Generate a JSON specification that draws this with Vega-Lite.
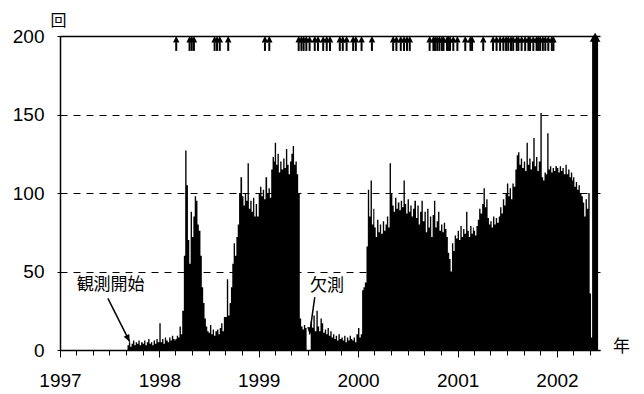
{
"$schema": "https://vega.github.io/schema/vega-lite/v6.json",
"width": 540, "height": 314,
"autosize": {"type": "none"},
"padding": {"left": 60, "top": 36, "right": 44, "bottom": 44},
"background": "white",
"config": {"view": {"stroke": null}, "font": "Liberation Sans"},
"datasets": {
"main": [
{"d":"1997-09-06","v":3},{"d":"1997-09-11","v":5},{"d":"1997-09-16","v":2},{"d":"1997-09-21","v":4},{"d":"1997-09-26","v":6},
{"d":"1997-10-01","v":3},{"d":"1997-10-06","v":5},{"d":"1997-10-11","v":4},{"d":"1997-10-16","v":6},{"d":"1997-10-21","v":3},{"d":"1997-10-26","v":5},
{"d":"1997-11-01","v":4},{"d":"1997-11-06","v":6},{"d":"1997-11-11","v":3},{"d":"1997-11-16","v":5},{"d":"1997-11-21","v":7},{"d":"1997-11-26","v":4},
{"d":"1997-12-01","v":5},{"d":"1997-12-06","v":3},{"d":"1997-12-11","v":6},{"d":"1997-12-16","v":4},{"d":"1997-12-21","v":7},{"d":"1997-12-26","v":5},
{"d":"1998-01-01","v":17},{"d":"1998-01-06","v":5},{"d":"1998-01-11","v":7},{"d":"1998-01-16","v":4},{"d":"1998-01-21","v":8},{"d":"1998-01-26","v":6},
{"d":"1998-02-01","v":5},{"d":"1998-02-06","v":8},{"d":"1998-02-11","v":6},{"d":"1998-02-16","v":9},{"d":"1998-02-21","v":7},{"d":"1998-02-26","v":6},
{"d":"1998-03-01","v":7},{"d":"1998-03-06","v":9},{"d":"1998-03-11","v":8},{"d":"1998-03-16","v":15},{"d":"1998-03-21","v":10},{"d":"1998-03-26","v":25},
{"d":"1998-04-01","v":60},{"d":"1998-04-06","v":127},{"d":"1998-04-11","v":105},{"d":"1998-04-16","v":70},{"d":"1998-04-21","v":55},{"d":"1998-04-26","v":88},
{"d":"1998-05-01","v":72},{"d":"1998-05-06","v":85},{"d":"1998-05-11","v":98},{"d":"1998-05-16","v":95},{"d":"1998-05-21","v":80},{"d":"1998-05-26","v":76},
{"d":"1998-06-01","v":60},{"d":"1998-06-06","v":40},{"d":"1998-06-11","v":30},{"d":"1998-06-16","v":20},{"d":"1998-06-21","v":15},{"d":"1998-06-26","v":12},
{"d":"1998-07-01","v":11},{"d":"1998-07-06","v":16},{"d":"1998-07-11","v":10},{"d":"1998-07-16","v":13},{"d":"1998-07-21","v":9},{"d":"1998-07-26","v":12},
{"d":"1998-08-01","v":13},{"d":"1998-08-06","v":10},{"d":"1998-08-11","v":14},{"d":"1998-08-16","v":17},{"d":"1998-08-21","v":12},{"d":"1998-08-26","v":21},
{"d":"1998-09-01","v":21},{"d":"1998-09-06","v":45},{"d":"1998-09-11","v":22},{"d":"1998-09-16","v":30},{"d":"1998-09-21","v":40},{"d":"1998-09-26","v":55},
{"d":"1998-10-01","v":68},{"d":"1998-10-06","v":60},{"d":"1998-10-11","v":72},{"d":"1998-10-16","v":80},{"d":"1998-10-21","v":100},{"d":"1998-10-26","v":110},
{"d":"1998-11-01","v":98},{"d":"1998-11-06","v":92},{"d":"1998-11-11","v":100},{"d":"1998-11-16","v":95},{"d":"1998-11-21","v":119},{"d":"1998-11-26","v":90},
{"d":"1998-12-01","v":95},{"d":"1998-12-06","v":88},{"d":"1998-12-11","v":97},{"d":"1998-12-16","v":85},{"d":"1998-12-21","v":93},{"d":"1998-12-26","v":85},
{"d":"1999-01-01","v":100},{"d":"1999-01-06","v":104},{"d":"1999-01-11","v":98},{"d":"1999-01-16","v":102},{"d":"1999-01-21","v":96},{"d":"1999-01-26","v":110},
{"d":"1999-02-01","v":100},{"d":"1999-02-06","v":103},{"d":"1999-02-11","v":97},{"d":"1999-02-16","v":115},{"d":"1999-02-21","v":123},{"d":"1999-02-26","v":120},
{"d":"1999-03-01","v":132},{"d":"1999-03-06","v":118},{"d":"1999-03-11","v":125},{"d":"1999-03-16","v":113},{"d":"1999-03-21","v":120},{"d":"1999-03-26","v":115},
{"d":"1999-04-01","v":122},{"d":"1999-04-06","v":116},{"d":"1999-04-11","v":128},{"d":"1999-04-16","v":118},{"d":"1999-04-21","v":112},{"d":"1999-04-26","v":120},
{"d":"1999-05-01","v":125},{"d":"1999-05-06","v":130},{"d":"1999-05-11","v":118},{"d":"1999-05-16","v":120},{"d":"1999-05-21","v":112},{"d":"1999-05-26","v":100},
{"d":"1999-06-01","v":20},{"d":"1999-06-06","v":15},{"d":"1999-06-11","v":13},{"d":"1999-06-16","v":16},{"d":"1999-06-21","v":14},{"d":"1999-06-26","v":0},
{"d":"1999-07-01","v":0},{"d":"1999-07-06","v":0},{"d":"1999-07-11","v":18},{"d":"1999-07-16","v":14},{"d":"1999-07-21","v":22},{"d":"1999-07-26","v":12},
{"d":"1999-08-01","v":25},{"d":"1999-08-06","v":15},{"d":"1999-08-11","v":12},{"d":"1999-08-16","v":20},{"d":"1999-08-21","v":17},{"d":"1999-08-26","v":11},
{"d":"1999-09-01","v":13},{"d":"1999-09-06","v":10},{"d":"1999-09-11","v":14},{"d":"1999-09-16","v":9},{"d":"1999-09-21","v":12},{"d":"1999-09-26","v":8},
{"d":"1999-10-01","v":10},{"d":"1999-10-06","v":7},{"d":"1999-10-11","v":9},{"d":"1999-10-16","v":6},{"d":"1999-10-21","v":10},{"d":"1999-10-26","v":7},
{"d":"1999-11-01","v":8},{"d":"1999-11-06","v":6},{"d":"1999-11-11","v":9},{"d":"1999-11-16","v":5},{"d":"1999-11-21","v":8},{"d":"1999-11-26","v":6},
{"d":"1999-12-01","v":9},{"d":"1999-12-06","v":7},{"d":"1999-12-11","v":6},{"d":"1999-12-16","v":8},{"d":"1999-12-21","v":5},{"d":"1999-12-26","v":10},
{"d":"2000-01-01","v":14},{"d":"2000-01-06","v":8},{"d":"2000-01-11","v":10},{"d":"2000-01-16","v":38},{"d":"2000-01-21","v":40},{"d":"2000-01-26","v":43},
{"d":"2000-02-01","v":66},{"d":"2000-02-06","v":102},{"d":"2000-02-11","v":85},{"d":"2000-02-16","v":108},{"d":"2000-02-21","v":80},{"d":"2000-02-26","v":90},
{"d":"2000-03-01","v":78},{"d":"2000-03-06","v":72},{"d":"2000-03-11","v":83},{"d":"2000-03-16","v":75},{"d":"2000-03-21","v":80},{"d":"2000-03-26","v":74},
{"d":"2000-04-01","v":82},{"d":"2000-04-06","v":76},{"d":"2000-04-11","v":80},{"d":"2000-04-16","v":85},{"d":"2000-04-21","v":78},{"d":"2000-04-26","v":119},
{"d":"2000-05-01","v":100},{"d":"2000-05-06","v":92},{"d":"2000-05-11","v":88},{"d":"2000-05-16","v":97},{"d":"2000-05-21","v":90},{"d":"2000-05-26","v":94},
{"d":"2000-06-01","v":89},{"d":"2000-06-06","v":95},{"d":"2000-06-11","v":91},{"d":"2000-06-16","v":108},{"d":"2000-06-21","v":93},{"d":"2000-06-26","v":87},
{"d":"2000-07-01","v":96},{"d":"2000-07-06","v":88},{"d":"2000-07-11","v":92},{"d":"2000-07-16","v":85},{"d":"2000-07-21","v":90},{"d":"2000-07-26","v":95},
{"d":"2000-08-01","v":84},{"d":"2000-08-06","v":92},{"d":"2000-08-11","v":80},{"d":"2000-08-16","v":88},{"d":"2000-08-21","v":95},{"d":"2000-08-26","v":82},
{"d":"2000-09-01","v":88},{"d":"2000-09-06","v":75},{"d":"2000-09-11","v":90},{"d":"2000-09-16","v":78},{"d":"2000-09-21","v":85},{"d":"2000-09-26","v":72},
{"d":"2000-10-01","v":86},{"d":"2000-10-06","v":95},{"d":"2000-10-11","v":78},{"d":"2000-10-16","v":82},{"d":"2000-10-21","v":88},{"d":"2000-10-26","v":76},
{"d":"2000-11-01","v":80},{"d":"2000-11-06","v":75},{"d":"2000-11-11","v":81},{"d":"2000-11-16","v":77},{"d":"2000-11-21","v":72},{"d":"2000-11-26","v":62},
{"d":"2000-12-01","v":58},{"d":"2000-12-06","v":50},{"d":"2000-12-11","v":68},{"d":"2000-12-16","v":63},{"d":"2000-12-21","v":73},{"d":"2000-12-26","v":71},
{"d":"2001-01-01","v":76},{"d":"2001-01-06","v":70},{"d":"2001-01-11","v":79},{"d":"2001-01-16","v":72},{"d":"2001-01-21","v":77},{"d":"2001-01-26","v":74},
{"d":"2001-02-01","v":88},{"d":"2001-02-06","v":76},{"d":"2001-02-11","v":72},{"d":"2001-02-16","v":79},{"d":"2001-02-21","v":74},{"d":"2001-02-26","v":78},
{"d":"2001-03-01","v":76},{"d":"2001-03-06","v":73},{"d":"2001-03-11","v":79},{"d":"2001-03-16","v":83},{"d":"2001-03-21","v":90},{"d":"2001-03-26","v":87},
{"d":"2001-04-01","v":93},{"d":"2001-04-06","v":103},{"d":"2001-04-11","v":91},{"d":"2001-04-16","v":96},{"d":"2001-04-21","v":84},{"d":"2001-04-26","v":80},
{"d":"2001-05-01","v":82},{"d":"2001-05-06","v":78},{"d":"2001-05-11","v":85},{"d":"2001-05-16","v":80},{"d":"2001-05-21","v":84},{"d":"2001-05-26","v":81},
{"d":"2001-06-01","v":85},{"d":"2001-06-06","v":91},{"d":"2001-06-11","v":87},{"d":"2001-06-16","v":96},{"d":"2001-06-21","v":92},{"d":"2001-06-26","v":100},
{"d":"2001-07-01","v":106},{"d":"2001-07-06","v":98},{"d":"2001-07-11","v":103},{"d":"2001-07-16","v":96},{"d":"2001-07-21","v":106},{"d":"2001-07-26","v":104},
{"d":"2001-08-01","v":115},{"d":"2001-08-06","v":124},{"d":"2001-08-11","v":126},{"d":"2001-08-16","v":118},{"d":"2001-08-21","v":122},{"d":"2001-08-26","v":116},
{"d":"2001-09-01","v":120},{"d":"2001-09-06","v":114},{"d":"2001-09-11","v":132},{"d":"2001-09-16","v":118},{"d":"2001-09-21","v":122},{"d":"2001-09-26","v":115},
{"d":"2001-10-01","v":120},{"d":"2001-10-06","v":135},{"d":"2001-10-11","v":117},{"d":"2001-10-16","v":123},{"d":"2001-10-21","v":114},{"d":"2001-10-26","v":120},
{"d":"2001-11-01","v":151},{"d":"2001-11-06","v":110},{"d":"2001-11-11","v":108},{"d":"2001-11-16","v":113},{"d":"2001-11-21","v":112},{"d":"2001-11-26","v":138},
{"d":"2001-12-01","v":115},{"d":"2001-12-06","v":117},{"d":"2001-12-11","v":113},{"d":"2001-12-16","v":116},{"d":"2001-12-21","v":114},{"d":"2001-12-26","v":117},
{"d":"2002-01-01","v":116},{"d":"2002-01-06","v":113},{"d":"2002-01-11","v":117},{"d":"2002-01-16","v":114},{"d":"2002-01-21","v":116},{"d":"2002-01-26","v":112},
{"d":"2002-02-01","v":118},{"d":"2002-02-06","v":112},{"d":"2002-02-11","v":115},{"d":"2002-02-16","v":110},{"d":"2002-02-21","v":113},{"d":"2002-02-26","v":108},
{"d":"2002-03-01","v":110},{"d":"2002-03-06","v":104},{"d":"2002-03-11","v":107},{"d":"2002-03-16","v":102},{"d":"2002-03-21","v":105},{"d":"2002-03-26","v":100},
{"d":"2002-04-01","v":98},{"d":"2002-04-06","v":94},{"d":"2002-04-11","v":85},{"d":"2002-04-16","v":96},{"d":"2002-04-21","v":90},{"d":"2002-04-26","v":100},
{"d":"2002-05-01","v":36},{"d":"2002-05-06","v":8},{"d":"2002-05-10","v":200},{"d":"2002-06-01","v":0}
],
"labels": [
{"d":"1997-07-06","v":41.4,"t":"観測開始"},
{"d":"1999-09-09","v":40.7,"t":"欠測"}
],
"pointers": [
{"k":"start","d":"1997-06-26","v":32.9,"d2":"1997-09-14","v2":5.3},
{"k":"gap","d":"1999-07-26","v":33.7,"d2":"1999-07-07","v2":10}
],
"events": [
{"d":"1998-03-04"},{"d":"1998-04-22"},{"d":"1998-04-30"},{"d":"1998-05-08"},{"d":"1998-07-23"},{"d":"1998-08-01"},{"d":"1998-08-11"},{"d":"1998-09-11"},
{"d":"1999-01-24"},{"d":"1999-02-09"},{"d":"1999-05-28"},{"d":"1999-06-07"},{"d":"1999-06-15"},{"d":"1999-06-25"},{"d":"1999-07-07"},{"d":"1999-07-26"},
{"d":"1999-08-07"},{"d":"1999-08-26"},{"d":"1999-09-08"},{"d":"1999-09-20"},{"d":"1999-10-26"},{"d":"1999-11-06"},{"d":"1999-11-20"},{"d":"1999-12-14"},
{"d":"1999-12-24"},{"d":"2000-01-14"},{"d":"2000-02-21"},{"d":"2000-05-09"},{"d":"2000-05-21"},{"d":"2000-06-06"},{"d":"2000-06-18"},{"d":"2000-06-29"},
{"d":"2000-07-09"},{"d":"2000-09-20"},{"d":"2000-10-04"},{"d":"2000-10-10"},{"d":"2000-10-18"},{"d":"2000-10-26"},{"d":"2000-11-04"},{"d":"2000-11-10"},
{"d":"2000-11-23"},{"d":"2000-11-28"},{"d":"2000-12-04"},{"d":"2000-12-16"},{"d":"2000-12-31"},{"d":"2001-01-29"},{"d":"2001-02-17"},{"d":"2001-02-23"},
{"d":"2001-04-05"},{"d":"2001-05-11"},{"d":"2001-05-24"},{"d":"2001-06-06"},{"d":"2001-06-18"},{"d":"2001-06-28"},{"d":"2001-07-06"},{"d":"2001-07-16"},
{"d":"2001-07-24"},{"d":"2001-08-06"},{"d":"2001-08-12"},{"d":"2001-08-24"},{"d":"2001-09-06"},{"d":"2001-09-18"},{"d":"2001-09-24"},{"d":"2001-10-06"},
{"d":"2001-10-18"},{"d":"2001-10-24"},{"d":"2001-10-31"},{"d":"2001-11-10"},{"d":"2001-11-19"},{"d":"2001-11-30"},{"d":"2001-12-13"},{"d":"2001-12-19"}
],
"big": [{"d":"2002-05-21"}]
},
"layer": [
{"data": {"name": "main"}, "mark": {"type": "area", "interpolate": "step-after", "color": "black"},
 "encoding": {
 "x": {"field": "d", "type": "temporal",
  "scale": {"type": "utc", "domain": [{"year": 1997, "month": 1, "date": 1, "utc": true}, {"year": 2002, "month": 6, "date": 8, "utc": true}]},
  "axis": {"title": "年", "titleAngle": 0, "titleX": 561, "titleY": -4, "titleAlign": "center", "titleBaseline": "middle",
   "titleFont": "Noto Sans CJK JP", "titleFontSize": 17, "titleFontWeight": "normal", "titleColor": "black",
   "tickCount": {"interval": "month", "step": 2},
   "labelExpr": "utcmonth(datum.value) == 0 ? utcFormat(datum.value, '%Y') : ''",
   "tickSize": {"condition": {"test": "utcmonth(datum.value) == 0", "value": 7}, "value": 5},
   "labelFont": "Liberation Sans", "labelFontSize": 19, "labelColor": "black", "labelPadding": 14,
   "labelOverlap": false, "labelFlush": false, "labelBound": false,
   "grid": false, "domainColor": "black", "domainWidth": 1.5, "tickColor": "black", "tickWidth": 1}},
 "y": {"field": "v", "type": "quantitative",
  "scale": {"domain": [0, 200], "nice": false},
  "axis": {"title": "回", "titleAngle": 0, "titleX": -2, "titleY": -16, "titleAlign": "center", "titleBaseline": "middle",
   "titleFont": "Noto Sans CJK JP", "titleFontSize": 16, "titleFontWeight": "normal", "titleColor": "black",
   "values": [0, 50, 100, 150, 200],
   "labelFont": "Liberation Sans", "labelFontSize": 19, "labelColor": "black", "labelPadding": 13,
   "tickSize": 3, "tickColor": "black", "domainColor": "black", "domainWidth": 1.5,
   "grid": true, "gridColor": "black",
   "gridDash": {"condition": {"test": "datum.value >= 200", "value": []}, "value": [7, 6]},
   "gridWidth": {"condition": {"test": "datum.value >= 200", "value": 1.5}, "value": 1}}}
 }},
{"data": {"name": "labels"}, "mark": {"type": "text", "font": "Noto Sans CJK JP", "fontSize": 17, "align": "center", "baseline": "middle", "color": "black"},
 "encoding": {"x": {"field": "d", "type": "temporal", "scale": {"type": "utc"}}, "y": {"field": "v", "type": "quantitative"}, "text": {"field": "t"}}},
{"data": {"name": "pointers"}, "mark": {"type": "rule", "color": "black", "strokeWidth": 1.5},
 "encoding": {"x": {"field": "d", "type": "temporal", "scale": {"type": "utc"}}, "y": {"field": "v", "type": "quantitative"}, "x2": {"field": "d2"}, "y2": {"field": "v2"}}},
{"data": {"name": "pointers"}, "transform": [{"filter": "datum.k == 'start'"}],
 "mark": {"type": "point", "shape": "M0,0L0.45,1L-0.45,1Z", "size": 196, "filled": true, "color": "black", "opacity": 1, "angle": 153},
 "encoding": {"x": {"field": "d2", "type": "temporal", "scale": {"type": "utc"}}, "y": {"field": "v2", "type": "quantitative"}}},
{"data": {"name": "pointers"}, "transform": [{"filter": "datum.k == 'gap'"}],
 "mark": {"type": "point", "shape": "M0,0L0.45,1L-0.45,1Z", "size": 196, "filled": true, "color": "black", "opacity": 1, "angle": 186},
 "encoding": {"x": {"field": "d2", "type": "temporal", "scale": {"type": "utc"}}, "y": {"field": "v2", "type": "quantitative"}}},
{"data": {"name": "events"}, "mark": {"type": "rule", "color": "black", "strokeWidth": 2},
 "encoding": {"x": {"field": "d", "type": "temporal", "scale": {"type": "utc"}}, "y": {"datum": 190.5, "type": "quantitative"}, "y2": {"datum": 196}}},
{"data": {"name": "events"}, "mark": {"type": "point", "shape": "M0,0L0.5,1L-0.5,1Z", "size": 169, "filled": true, "color": "black", "opacity": 1},
 "encoding": {"x": {"field": "d", "type": "temporal", "scale": {"type": "utc"}}, "y": {"datum": 200, "type": "quantitative"}}},
{"data": {"name": "big"}, "mark": {"type": "point", "shape": "M0,0L0.6,1L-0.6,1Z", "size": 324, "filled": true, "color": "black", "opacity": 1},
 "encoding": {"x": {"field": "d", "type": "temporal", "scale": {"type": "utc"}}, "y": {"datum": 202, "type": "quantitative"}}}
]
}
